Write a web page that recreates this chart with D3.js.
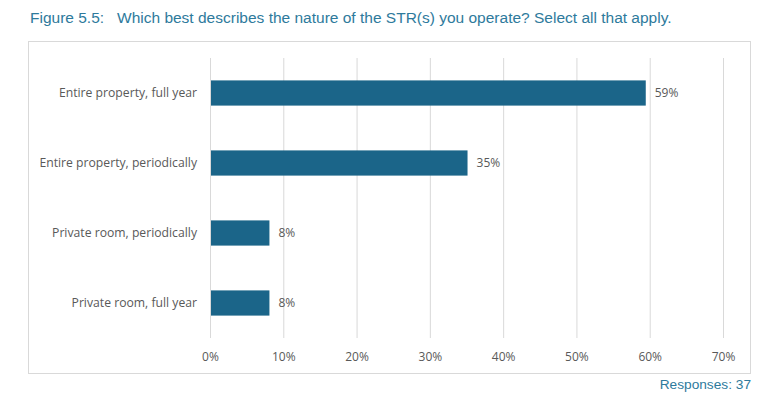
<!DOCTYPE html>
<html><head><meta charset="utf-8">
<script src="https://cdn.jsdelivr.net/npm/d3@7"></script>
<style>body{margin:0;background:#fff;}</style>
</head><body>
<svg id="c" width="780" height="411"></svg>
<script>
const categories = ["Entire property, full year","Entire property, periodically","Private room, periodically","Private room, full year"];
const values = [59.46, 35.14, 8.11, 8.11];
const valueLabels = ["59%","35%","8%","8%"];
const ticks = [0,10,20,30,40,50,60,70];
const title = "Figure 5.5:   Which best describes the nature of the STR(s) you operate? Select all that apply.";
const note = "Responses: 37";

const svg = d3.select("#c");
const labelFont = "'Open Sans', 'Noto Sans', sans-serif";

svg.append("text").attr("x",30).attr("y",23).attr("fill","#2e7a9c")
  .attr("font-family","'Liberation Sans', Arial, sans-serif").attr("font-size",15.5)
  .attr("xml:space","preserve").style("white-space","pre").text(title);

svg.append("rect").attr("x",28.5).attr("y",41.5).attr("width",722).attr("height",332)
  .attr("fill","none").attr("stroke","#d9d9d9").attr("stroke-width",1);

const x = d3.scaleLinear().domain([0,70]).range([210,723]);
const y = d3.scaleBand().domain(categories).range([58,338]).paddingInner(0.64).paddingOuter(0.32);

// gridlines
svg.append("g").selectAll("line").data(ticks).join("line")
  .attr("x1",d=>x(d)+0.5).attr("x2",d=>x(d)+0.5).attr("y1",58).attr("y2",338)
  .attr("stroke","#d9d9d9").attr("stroke-width",1);

// x axis labels
const xAxis = d3.axisBottom(x).tickValues(ticks).tickFormat(d=>d+"%").tickSize(0).tickPadding(0);
const gx = svg.append("g").attr("transform","translate(0,352)").call(xAxis);
gx.select(".domain").remove();
gx.selectAll("text").attr("font-family",labelFont).attr("font-size",12).attr("fill","#595959");

// y axis labels
const yAxis = d3.axisLeft(y).tickSize(0).tickPadding(13);
const gy = svg.append("g").attr("transform","translate(210,0)").call(yAxis);
gy.select(".domain").remove();
gy.selectAll("text").attr("font-family",labelFont).attr("font-size",12.2).attr("fill","#595959");

// bars
svg.append("g").selectAll("rect").data(categories).join("rect")
  .attr("x",x(0)+1).attr("y",d=>y(d)).attr("height",y.bandwidth())
  .attr("width",(d,i)=>x(values[i])-x(0)-1).attr("fill","#1b6589");

// value labels
svg.append("g").selectAll("text").data(categories).join("text")
  .attr("x",(d,i)=>x(values[i])+9).attr("y",d=>y(d)+y.bandwidth()/2).attr("dy","0.35em")
  .attr("font-family",labelFont).attr("font-size",12).attr("fill","#595959")
  .text((d,i)=>valueLabels[i]);

svg.append("text").attr("x",751).attr("y",389).attr("text-anchor","end").attr("fill","#2e7a9c")
  .attr("font-family","'Liberation Sans', Arial, sans-serif").attr("font-size",13.7).text(note);
</script>
</body></html>
